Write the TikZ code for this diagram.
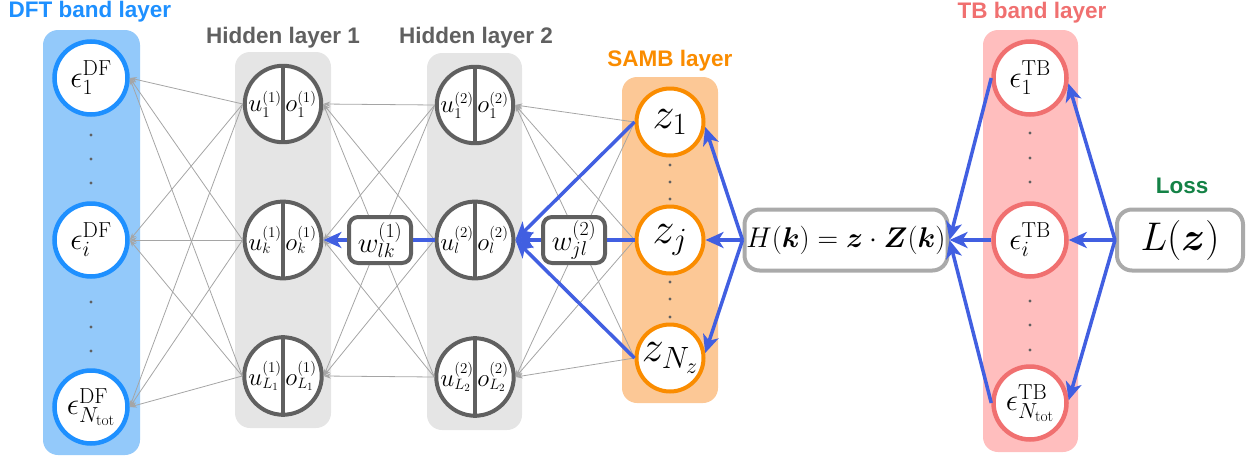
\RequirePackage{fix-cm}
\documentclass[tikz,border=0pt]{standalone}
\usepackage{fontspec}
\usepackage{bm}
\newfontfamily\titlefont{Liberation Sans}
\usetikzlibrary{arrows.meta}
\DeclareMathSizes{25}{25}{15}{11}
\definecolor{dftblue}{RGB}{30,144,255}
\definecolor{dftbg}{RGB}{147,201,250}
\definecolor{hidgray}{RGB}{96,96,96}
\definecolor{hidbg}{RGB}{229,229,229}
\definecolor{sambor}{RGB}{250,140,0}
\definecolor{sambbg}{RGB}{252,200,150}
\definecolor{tbred}{RGB}{240,112,112}
\definecolor{tbbg}{RGB}{255,190,190}
\definecolor{lossgreen}{RGB}{20,130,70}
\definecolor{arrblue}{RGB}{65,95,225}
\definecolor{linegray}{RGB}{165,165,165}
\definecolor{boxgray}{RGB}{170,170,170}
\tikzset{
  panel/.style={rounded corners=15pt},
  ttl/.style={font=\titlefont\bfseries\fontsize{22.5}{24}\selectfont, anchor=base, inner sep=0pt},
  bandnode/.style={circle, line width=4.5pt, fill=white, minimum size=73pt, inner sep=0pt, font=\fontsize{31}{34}\selectfont},
  hidnode/.style={circle, draw=hidgray, line width=4pt, fill=white, minimum size=74pt, inner sep=0pt, font=\fontsize{25}{28}\selectfont},
  zzznode/.style={circle, draw=sambor, line width=4pt, fill=white, minimum size=67pt, inner sep=0pt, font=\fontsize{44}{48}\selectfont},
  wbox/.style={draw=hidgray, line width=4pt, fill=white, rounded corners=9pt, minimum width=62pt, minimum height=46pt, inner sep=0pt, font=\fontsize{28.5}{30}\selectfont},
  gbox/.style={draw=boxgray, line width=4pt, fill=white, rounded corners=15pt, minimum height=61pt, inner sep=0pt},
  gl/.style={linegray, line width=0.8pt, -{Stealth[length=7pt,width=5pt]}},
  ba/.style={arrblue, line width=3.5pt, -{Stealth[length=18pt,width=16pt,inset=5pt]}},
  bl/.style={arrblue, line width=3.5pt},
  dot/.style={hidgray}
}
\newcommand{\uo}[2]{\makebox[36pt]{$#1$}\makebox[36pt]{$#2$}}
\begin{document}
\begin{tikzpicture}[x=1pt,y=-1pt]
\useasboundingbox (0,0) rectangle (1258,461);
% panels
\fill[dftbg, panel] (43,30) rectangle (140,455);
\fill[hidbg, panel] (235,52) rectangle (331,428);
\fill[hidbg, panel] (427,53) rectangle (522,430);
\fill[sambbg, panel] (622,77) rectangle (718,403);
\fill[tbbg, panel] (983,30) rectangle (1078,452);
% titles
\node[ttl, text=dftblue] (tdft) at (90,17) {DFT band layer};
\node[ttl, text=hidgray] (th1) at (283,43) {Hidden layer 1};
\node[ttl, text=hidgray] (th2) at (476,43) {Hidden layer 2};
\node[ttl, text=sambor] (tsamb) at (670,66) {SAMB layer};
\node[ttl, text=tbred] (ttb) at (1032,18) {TB band layer};
\node[ttl, text=lossgreen] (tloss) at (1182,193) {Loss};
% DFT nodes
\node[bandnode, draw=dftblue] (d1) at (91,78) {$\epsilon_1^{\mathrm{DF}}$};
\node[bandnode, draw=dftblue] (d2) at (91,240) {$\epsilon_i^{\mathrm{DF}}$};
\node[bandnode, draw=dftblue] (d3) at (91,407) {$\epsilon_{N_{\mathrm{tot}}}^{\mathrm{DF}}$};
% hidden 1
\node[hidnode] (h1a) at (283,104) {\uo{u_1^{(1)}}{o_1^{(1)}}};
\node[hidnode] (h1b) at (283,240) {\uo{u_k^{(1)}}{o_k^{(1)}}};
\node[hidnode] (h1c) at (283,376) {\uo{u_{L_1}^{(1)}}{o_{L_1}^{(1)}}};
% hidden 2
\node[hidnode] (h2a) at (475,105) {\uo{u_1^{(2)}}{o_1^{(2)}}};
\node[hidnode] (h2b) at (475,240) {\uo{u_l^{(2)}}{o_l^{(2)}}};
\node[hidnode] (h2c) at (475,377) {\uo{u_{L_2}^{(2)}}{o_{L_2}^{(2)}}};
\foreach \n in {h1a,h1b,h1c,h2a,h2b,h2c}
  \draw[hidgray, line width=4pt] (\n.north) -- (\n.south);
% SAMB
\node[zzznode] (z1) at (670,122) {$z_1$};
\node[zzznode] (z2) at (670,240) {$z_j$};
\node[zzznode] (z3) at (670,358) {$z_{N_z}$};
% TB
\node[bandnode, draw=tbred] (t1) at (1030,78) {$\epsilon_1^{\mathrm{TB}}$};
\node[bandnode, draw=tbred] (t2) at (1030,240) {$\epsilon_i^{\mathrm{TB}}$};
\node[bandnode, draw=tbred] (t3) at (1030,403) {$\epsilon_{N_{\mathrm{tot}}}^{\mathrm{TB}}$};
% dots
\foreach \x/\y in {91/135,91/159,91/183,91/302,91/327,91/351,
  670/165,670/182,670/199,670/282,670/299,670/317,
  1030/133,1030/158,1030/182,1030/301,1030/325,1030/350}
  \fill[dot] (\x,\y) circle (1.7pt);
% gray connections
\foreach \s in {h1a,h1b,h1c}
  \foreach \t in {d1,d2,d3}
    \draw[gl] (\s.west) -- (\t.east);
\foreach \s in {h2a,h2b,h2c}
  \foreach \t in {h1a,h1b,h1c}
    \draw[gl] (\s.west) -- (\t.east);
\foreach \s in {z1,z2,z3}
  \foreach \t in {h2a,h2b,h2c}
    \draw[gl] (\s.west) -- (\t.east);
% boxes
\node[wbox] (wlk) at (380,240) {$w_{lk}^{(1)}$};
\node[wbox] (wjl) at (574,240) {$w_{jl}^{(2)}$};
\node[gbox, minimum width=203pt, font=\fontsize{28.5}{30}\selectfont] (hk) at (846,240) {$H(\bm{k})=\bm{z}\cdot\bm{Z}(\bm{k})$};
\node[gbox, minimum width=126pt, font=\fontsize{40}{44}\selectfont] (lz) at (1180,240) {$L(\bm{z})$};
% blue flow
\draw[ba] (lz.west) -- (t1.-8);
\draw[ba] (lz.west) -- (t2.east);
\draw[ba] (lz.west) -- (t3.4);
\draw[ba] (t1.west) -- (hk.east);
\draw[ba] (t2.west) -- (hk.east);
\draw[ba] (t3.west) -- (hk.east);
\draw[ba] (hk.west) -- (z1.-8);
\draw[ba] (hk.west) -- (z2.east);
\draw[ba] (hk.west) -- (z3.8);
\draw[ba] (z1.west) -- (h2b.east);
\draw[ba] (z3.west) -- (h2b.east);
\draw[bl] (z2.west) -- (wjl.east);
\draw[ba] (wjl.west) -- (h2b.east);
\draw[bl] (h2b.west) -- (wlk.east);
\draw[ba] (wlk.west) -- (h1b.east);
\end{tikzpicture}
\end{document}
